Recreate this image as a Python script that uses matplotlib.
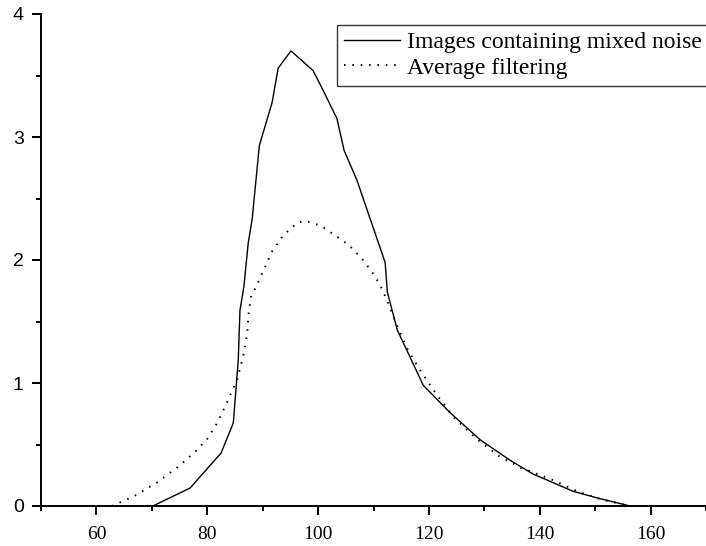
import matplotlib.pyplot as plt
from matplotlib.ticker import MultipleLocator

# Data
noise_x = [70.2, 76.9, 82.5, 84.7, 85.6, 85.9, 86.6, 87.4, 88.1, 89.4, 91.7, 92.8, 95.1,
           99.1, 100.9, 103.4, 104.7, 107.0, 112.1, 112.5, 114.3, 119.0, 123.8, 129.2,
           134.7, 138.8, 146.0, 150.4, 156.3]
noise_y = [0.0, 0.146, 0.431, 0.675, 1.19, 1.59, 1.78, 2.14, 2.33, 2.93, 3.28, 3.56, 3.70,
           3.54, 3.38, 3.15, 2.89, 2.65, 1.98, 1.74, 1.43, 0.98, 0.76, 0.54,
           0.37, 0.26, 0.12, 0.065, 0.0]

avg_x = [62.8, 66.8, 70.9, 74.9, 77.6, 80.0, 81.8, 83.6, 85.4, 86.5, 87.2, 87.5, 87.9,
         89.2, 90.4, 91.7, 93.7, 96.2, 97.6, 100.4, 103.1, 105.6, 108.1, 110.1, 111.6,
         112.8, 114.3, 116.2, 118.6, 121.5, 124.5, 128.5, 132.5, 136.6, 141.9, 147.3,
         151.4, 156.3]
avg_y = [0.0, 0.08, 0.19, 0.325, 0.431, 0.545, 0.675, 0.846, 1.03, 1.22, 1.40, 1.58, 1.70,
         1.82, 1.94, 2.07, 2.20, 2.30, 2.32, 2.28, 2.20, 2.12, 2.00, 1.88, 1.76,
         1.63, 1.46, 1.27, 1.09, 0.90, 0.72, 0.55, 0.41, 0.31, 0.22, 0.11,
         0.05, 0.0]

serif = "Liberation Serif"
sans = "Liberation Sans"

fig = plt.figure(figsize=(7.06, 5.46), dpi=100)
ax = fig.add_axes([41 / 706, 40 / 546, 1 - 41 / 706, 492 / 546])

ax.plot(noise_x, noise_y, color="black", lw=1.0, label="Images containing mixed noise")
ax.plot(avg_x, avg_y, color="black", lw=1.4, linestyle=(0, (0.8, 3.5)),
        label="Average filtering")

ax.set_xlim(50, 170)
ax.set_ylim(0, 4)
ax.xaxis.set_minor_locator(MultipleLocator(10))
ax.yaxis.set_major_locator(MultipleLocator(1))
ax.yaxis.set_minor_locator(MultipleLocator(0.5))
ax.set_xticks([60, 80, 100, 120, 140, 160])

for s in ["top", "right"]:
    ax.spines[s].set_visible(False)
for s in ["left", "bottom"]:
    ax.spines[s].set_linewidth(1.4)

ax.tick_params(which="major", direction="out", length=6.5, width=1.4)
ax.tick_params(which="minor", direction="out", length=3.5, width=1.4)
ax.tick_params(axis="y", which="major", pad=6)
ax.tick_params(axis="x", which="major", pad=8)

for lab in ax.get_xticklabels():
    lab.set_fontfamily(serif)
    lab.set_fontsize(14)
for lab in ax.get_yticklabels():
    lab.set_fontfamily(sans)
    lab.set_fontsize(14)

leg = ax.legend(loc="upper right", bbox_to_anchor=(1.005, 0.978), borderaxespad=0,
                prop={"family": serif, "size": 17}, frameon=True, fancybox=False,
                handlelength=2.4, handletextpad=0.3, labelspacing=0.15,
                borderpad=0.3)
leg.get_frame().set_edgecolor("black")
leg.get_frame().set_linewidth(1.0)

fig.savefig("out.png", dpi=100)
